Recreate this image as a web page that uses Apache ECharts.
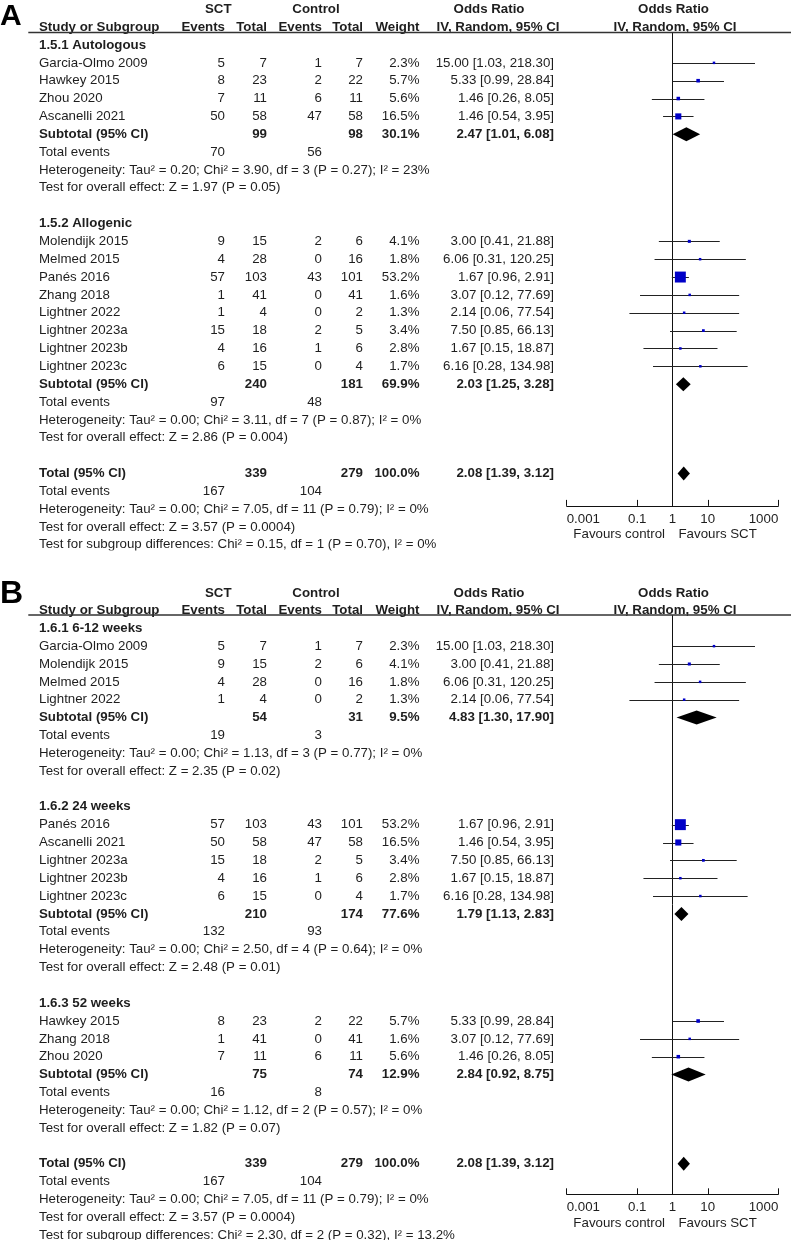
<!DOCTYPE html>
<html><head><meta charset="utf-8">
<script src="https://cdn.jsdelivr.net/npm/echarts@6/dist/echarts.min.js"></script>
<style>html,body{margin:0;padding:0;background:#fff}#c{width:791px;height:1240px}</style>
</head><body><div id="c"></div>
<script>
// ---------------- data ----------------
const studyNames = ['Garcia-Olmo 2009','Hawkey 2015','Zhou 2020','Ascanelli 2021','Molendijk 2015','Melmed 2015','Panés 2016','Zhang 2018','Lightner 2022','Lightner 2023a','Lightner 2023b','Lightner 2023c'];
const sctEvents = [5, 8, 7, 50, 9, 4, 57, 1, 1, 15, 4, 6];
const sctTotal  = [7, 23, 11, 58, 15, 28, 103, 41, 4, 18, 16, 15];
const ctlEvents = [1, 2, 6, 47, 2, 0, 43, 0, 0, 2, 1, 0];
const ctlTotal  = [7, 22, 11, 58, 6, 16, 101, 41, 2, 5, 6, 4];
const weights   = [2.3, 5.7, 5.6, 16.5, 4.1, 1.8, 53.2, 1.6, 1.3, 3.4, 2.8, 1.7];
const oddsRatio = [15.00, 5.33, 1.46, 1.46, 3.00, 6.06, 1.67, 3.07, 2.14, 7.50, 1.67, 6.16];
const ciLow     = [1.03, 0.99, 0.26, 0.54, 0.41, 0.31, 0.96, 0.12, 0.06, 0.85, 0.15, 0.28];
const ciHigh    = [218.30, 28.84, 8.05, 3.95, 21.88, 120.25, 2.91, 77.69, 77.54, 66.13, 18.87, 134.98];

// Panel A subgroups
const groupTitlesA   = ['1.5.1 Autologous', '1.5.2 Allogenic'];
const groupStudiesA  = [[0, 1, 2, 3], [4, 5, 6, 7, 8, 9, 10, 11]];
const subSctTotalA   = [99, 240];
const subCtlTotalA   = [98, 181];
const subWeightA     = [30.1, 69.9];
const subOR_A        = [2.47, 2.03];
const subLowA        = [1.01, 1.25];
const subHighA       = [6.08, 3.28];
const subSctEventsA  = [70, 97];
const subCtlEventsA  = [56, 48];
const subHetA = ['Heterogeneity: Tau² = 0.20; Chi² = 3.90, df = 3 (P = 0.27); I² = 23%',
                 'Heterogeneity: Tau² = 0.00; Chi² = 3.11, df = 7 (P = 0.87); I² = 0%'];
const subEffectA = ['Test for overall effect: Z = 1.97 (P = 0.05)',
                    'Test for overall effect: Z = 2.86 (P = 0.004)'];
const subgroupDiffA = 'Test for subgroup differences: Chi² = 0.15, df = 1 (P = 0.70), I² = 0%';

// Panel B subgroups
const groupTitlesB   = ['1.6.1 6-12 weeks', '1.6.2 24 weeks', '1.6.3 52 weeks'];
const groupStudiesB  = [[0, 4, 5, 8], [6, 3, 9, 10, 11], [1, 7, 2]];
const subSctTotalB   = [54, 210, 75];
const subCtlTotalB   = [31, 174, 74];
const subWeightB     = [9.5, 77.6, 12.9];
const subOR_B        = [4.83, 1.79, 2.84];
const subLowB        = [1.30, 1.13, 0.92];
const subHighB       = [17.90, 2.83, 8.75];
const subSctEventsB  = [19, 132, 16];
const subCtlEventsB  = [3, 93, 8];
const subHetB = ['Heterogeneity: Tau² = 0.00; Chi² = 1.13, df = 3 (P = 0.77); I² = 0%',
                 'Heterogeneity: Tau² = 0.00; Chi² = 2.50, df = 4 (P = 0.64); I² = 0%',
                 'Heterogeneity: Tau² = 0.00; Chi² = 1.12, df = 2 (P = 0.57); I² = 0%'];
const subEffectB = ['Test for overall effect: Z = 2.35 (P = 0.02)',
                    'Test for overall effect: Z = 2.48 (P = 0.01)',
                    'Test for overall effect: Z = 1.82 (P = 0.07)'];
const subgroupDiffB = 'Test for subgroup differences: Chi² = 2.30, df = 2 (P = 0.32), I² = 13.2%';

// Overall totals (same in both panels)
const totalSct = 339, totalCtl = 279, totalWeight = 100.0;
const totalOR = 2.08, totalLow = 1.39, totalHigh = 3.12;
const totalSctEvents = 167, totalCtlEvents = 104;
const totalHet = 'Heterogeneity: Tau² = 0.00; Chi² = 7.05, df = 11 (P = 0.79); I² = 0%';
const totalEffect = 'Test for overall effect: Z = 3.57 (P = 0.0004)';

// Axis
const axisTickValues = [0.001, 0.1, 1, 10, 1000];
const axisTickLabels = ['0.001', '0.1', '1', '10', '1000'];

// ---------------- layout ----------------
const ROW = 17.85;
const PLOT_L = 566.7, PLOT_R = 778.3;
const FS = 13.3;
const FONT = '"Liberation Sans", Arial, Helvetica, sans-serif';
const TXT = '#1e1e1e';
const COLS = {
  name:   {x: 39,    align: 'left'},
  sctEv:  {x: 225,   align: 'right'},
  sctTot: {x: 267,   align: 'right'},
  ctlEv:  {x: 322,   align: 'right'},
  ctlTot: {x: 363,   align: 'right'},
  weight: {x: 419.5, align: 'right'},
  or:     {x: 554,   align: 'right'},
  sctHead:{x: 218.3, align: 'center'},
  ctlHead:{x: 316,   align: 'center'},
  orHead: {x: 489,   align: 'center'},
  orHead2:{x: 498,   align: 'center'},
  plotHead:  {rel: 1,    align: 'center'},
  plotHead2: {rel: 2.5,  align: 'center'},
  favL:   {rel: -7.5, align: 'right'},
  favR:   {rel: 6,    align: 'left'}
};
const PANELS = [
  {row0: 45,    yMin: -0.70,  yMax: 25.82, letter: 'A', letterY: 2,   letterSize: 30},
  {row0: 628.3, yMin: -0.745, yMax: 31.71, letter: 'B', letterY: 578, letterSize: 32}
];

const fmtOR = (o, l, h) => o.toFixed(2) + ' [' + l.toFixed(2) + ', ' + h.toFixed(2) + ']';
const fmtW = w => w.toFixed(1) + '%';

function buildPanel(titles, members, sT, cT, sW, sO, sL, sH, sE, cE, het, eff, diff, yMax) {
  const cells = [], studies = [], diamonds = [];
  const add = (row, text, col, bold) => cells.push({row, text: String(text), col, bold: !!bold});
  add(-1.97, 'SCT', 'sctHead', true);
  add(-1.97, 'Control', 'ctlHead', true);
  add(-1.97, 'Odds Ratio', 'orHead', true);
  add(-1.97, 'Odds Ratio', 'plotHead', true);
  add(-1, 'Study or Subgroup', 'name', true);
  add(-1, 'Events', 'sctEv', true);
  add(-1, 'Total', 'sctTot', true);
  add(-1, 'Events', 'ctlEv', true);
  add(-1, 'Total', 'ctlTot', true);
  add(-1, 'Weight', 'weight', true);
  add(-1, 'IV, Random, 95% CI', 'orHead2', true);
  add(-1, 'IV, Random, 95% CI', 'plotHead2', true);
  let r = 0;
  titles.forEach((t, g) => {
    add(r, t, 'name', true); r++;
    members[g].forEach(i => {
      add(r, studyNames[i], 'name');
      add(r, sctEvents[i], 'sctEv');
      add(r, sctTotal[i], 'sctTot');
      add(r, ctlEvents[i], 'ctlEv');
      add(r, ctlTotal[i], 'ctlTot');
      add(r, fmtW(weights[i]), 'weight');
      add(r, fmtOR(oddsRatio[i], ciLow[i], ciHigh[i]), 'or');
      studies.push([oddsRatio[i], r, ciLow[i], ciHigh[i], weights[i]]);
      r++;
    });
    add(r, 'Subtotal (95% CI)', 'name', true);
    add(r, sT[g], 'sctTot', true);
    add(r, cT[g], 'ctlTot', true);
    add(r, fmtW(sW[g]), 'weight', true);
    add(r, fmtOR(sO[g], sL[g], sH[g]), 'or', true);
    diamonds.push([sO[g], r, sL[g], sH[g]]);
    r++;
    add(r, 'Total events', 'name'); add(r, sE[g], 'sctEv'); add(r, cE[g], 'ctlEv'); r++;
    add(r, het[g], 'name'); r++;
    add(r, eff[g], 'name'); r++;
    r++;
  });
  add(r, 'Total (95% CI)', 'name', true);
  add(r, totalSct, 'sctTot', true);
  add(r, totalCtl, 'ctlTot', true);
  add(r, fmtW(totalWeight), 'weight', true);
  add(r, fmtOR(totalOR, totalLow, totalHigh), 'or', true);
  diamonds.push([totalOR, r, totalLow, totalHigh]);
  r++;
  add(r, 'Total events', 'name'); add(r, totalSctEvents, 'sctEv'); add(r, totalCtlEvents, 'ctlEv'); r++;
  add(r, totalHet, 'name'); r++;
  add(r, totalEffect, 'name'); r++;
  add(r, diff, 'name'); r++;
  add(yMax + 1.62, 'Favours control', 'favL');
  add(yMax + 1.62, 'Favours SCT', 'favR');
  return {cells, studies, diamonds};
}

const built = [
  buildPanel(groupTitlesA, groupStudiesA, subSctTotalA, subCtlTotalA, subWeightA, subOR_A, subLowA, subHighA, subSctEventsA, subCtlEventsA, subHetA, subEffectA, subgroupDiffA, PANELS[0].yMax),
  buildPanel(groupTitlesB, groupStudiesB, subSctTotalB, subCtlTotalB, subWeightB, subOR_B, subLowB, subHighB, subSctEventsB, subCtlEventsB, subHetB, subEffectB, subgroupDiffB, PANELS[1].yMax)
];

const grids = [], xAxes = [], yAxes = [], series = [], graphics = [];
PANELS.forEach((p, k) => {
  const top = p.row0 + p.yMin * ROW;
  grids.push({left: PLOT_L, width: PLOT_R - PLOT_L, top: top, height: (p.yMax - p.yMin) * ROW, containLabel: false});
  xAxes.push({
    type: 'log', logBase: 10, min: 0.001, max: 1000, gridIndex: k, position: 'bottom',
    axisLine: {show: true, onZero: false, lineStyle: {color: '#111', width: 1}},
    axisTick: {show: true, inside: true, length: 6, customValues: axisTickValues, lineStyle: {color: '#111', width: 1}},
    minorTick: {show: false}, splitLine: {show: false},
    axisLabel: {
      show: true, customValues: axisTickValues, margin: 7, color: TXT, fontSize: FS, fontFamily: FONT,
      alignMinLabel: 'left', alignMaxLabel: 'right',
      formatter: v => {
        let best = 0;
        axisTickValues.forEach((t, i) => { if (Math.abs(Math.log10(t) - Math.log10(v)) < Math.abs(Math.log10(axisTickValues[best]) - Math.log10(v))) best = i; });
        return axisTickLabels[best];
      }
    }
  });
  yAxes.push({type: 'value', gridIndex: k, inverse: true, min: p.yMin, max: p.yMax, show: false});

  const b = built[k];
  // reference line at OR = 1
  series.push({type: 'line', xAxisIndex: k, yAxisIndex: k, data: [[1, p.yMin], [1, p.yMax]], symbol: 'none', silent: true,
    lineStyle: {color: '#111', width: 1}, z: 2, animation: false});
  // CI whiskers
  series.push({type: 'custom', xAxisIndex: k, yAxisIndex: k, data: b.studies, clip: false, silent: true, animation: false, z: 3,
    renderItem: (params, api) => {
      const a = api.coord([api.value(2), api.value(1)]);
      const c = api.coord([api.value(3), api.value(1)]);
      return {type: 'line', shape: {x1: a[0], y1: Math.round(a[1]) + 0.5, x2: c[0], y2: Math.round(c[1]) + 0.5},
        style: {stroke: '#222', lineWidth: 1}};
    }});
  // weight squares
  series.push({type: 'scatter', xAxisIndex: k, yAxisIndex: k, data: b.studies, symbol: 'rect', silent: true, animation: false, z: 4,
    symbolSize: d => Math.max(2.5, 1.5 * Math.sqrt(d[4])),
    itemStyle: {color: '#0000c8', opacity: 1}});
  // diamonds
  series.push({type: 'custom', xAxisIndex: k, yAxisIndex: k, data: b.diamonds, clip: false, silent: true, animation: false, z: 4,
    renderItem: (params, api) => {
      const row = api.value(1);
      const l = api.coord([api.value(2), row]);
      const m = api.coord([api.value(0), row]);
      const h = api.coord([api.value(3), row]);
      const hh = 7;
      return {type: 'polygon', shape: {points: [[l[0], l[1]], [m[0], m[1] - hh], [h[0], h[1]], [m[0], m[1] + hh]]},
        style: {fill: '#000'}};
    }});
  // table text
  series.push({type: 'custom', xAxisIndex: k, yAxisIndex: k, data: b.cells.map((c, i) => [1, c.row, i]), clip: false, silent: true, animation: false, z: 5,
    renderItem: (params, api) => {
      const c = b.cells[api.value(2)];
      const pt = api.coord([1, api.value(1)]);
      const col = COLS[c.col];
      const x = col.rel !== undefined ? pt[0] + col.rel : col.x;
      return {type: 'text', x: x, y: pt[1],
        style: {text: c.text, fill: TXT, font: (c.bold ? 'bold ' : '') + FS + 'px ' + FONT, align: col.align, verticalAlign: 'middle'}};
    }});

  // header rule and panel letter
  graphics.push({type: 'line', shape: {x1: 28.3, y1: top, x2: 791, y2: top}, style: {stroke: '#333', lineWidth: 1.5}, z: 10});
  graphics.push({type: 'text', x: 0, y: p.letterY, style: {text: p.letter, font: 'bold ' + p.letterSize + 'px ' + FONT, fill: '#000'}, z: 10});
});
// crop line of panel A bottom text (as in the reference)
graphics.push({type: 'rect', shape: {x: 0, y: 550.5, width: 791, height: 4}, style: {fill: '#fff'}, z: 50});

const chart = echarts.init(document.getElementById('c'), null, {renderer: 'canvas'});
chart.setOption({
  animation: false,
  backgroundColor: '#fff',
  grid: grids, xAxis: xAxes, yAxis: yAxes, series: series, graphic: graphics
});
</script></body></html>
